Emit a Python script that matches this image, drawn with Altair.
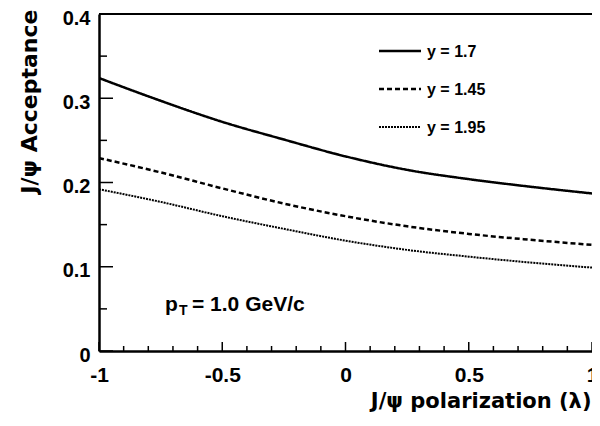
import altair as alt
import pandas as pd

# ---- data ----
lam = [-1.0, -0.75, -0.5, -0.25, 0.0, 0.25, 0.5, 0.75, 1.0]
acc_y17 = [0.324, 0.297, 0.272, 0.251, 0.231, 0.215, 0.204, 0.195, 0.187]
acc_y145 = [0.229, 0.212, 0.193, 0.175, 0.160, 0.148, 0.139, 0.132, 0.126]
acc_y195 = [0.192, 0.177, 0.160, 0.145, 0.131, 0.120, 0.112, 0.105, 0.099]

series_names = ["y = 1.7", "y = 1.45", "y = 1.95"]
series_values = [acc_y17, acc_y145, acc_y195]

x_major = [-1, -0.5, 0, 0.5, 1]
x_minor = [-0.9, -0.8, -0.7, -0.6, -0.4, -0.3, -0.2, -0.1,
           0.1, 0.2, 0.3, 0.4, 0.6, 0.7, 0.8, 0.9]
y_major = [0, 0.1, 0.2, 0.3, 0.4]
y_minor = [0.05, 0.15, 0.25, 0.35]

x_title = "J/ψ polarization (λ)"
y_title = "J/ψ Acceptance"

# ---- layout / style ----
W, H = 493, 337
TOP = 6
FONT = "Liberation Sans"
TFONT = "DejaVu Sans"
dashes = [[1, 0], [5, 3], [2, 1]]
widths = [2.5, 2.5, 2.0]

xs = alt.Scale(domain=[-1, 1], nice=False, zero=False)
ys = alt.Scale(domain=[0, 0.4], nice=False, zero=False)

x_axis = alt.Axis(
    values=x_major, labelExpr="'' + datum.value", ticks=False,
    grid=False, domainWidth=2.5, domainColor="black",
    labelFont=FONT, labelFontWeight="bold", labelFontSize=21,
    labelColor="black", labelPadding=13, labelFlush=False,
    title=x_title, titleFont=TFONT, titleFontWeight="bold",
    titleFontSize=21, titleColor="black", titleAnchor="end",
    titleAlign="right", titleX=W - 1, titleY=50, titleBaseline="middle")
y_axis = alt.Axis(
    values=y_major, labelExpr="'' + datum.value", ticks=False,
    grid=False, domainWidth=2.5, domainColor="black",
    labelFont=FONT, labelFontWeight="bold", labelFontSize=20,
    labelColor="black", labelPadding=9, labelFlush=False, labelOffset=4,
    title=y_title, titleFont=TFONT, titleFontWeight="bold",
    titleFontSize=22, titleColor="black", titleAngle=-90,
    titleAlign="right", titleBaseline="middle",
    titleX=-70, titleY=-5)

layers = []
for i, (name, vals) in enumerate(zip(series_names, series_values)):
    df = pd.DataFrame({"lam": lam, "acc": vals})
    if i == 0:
        xenc = alt.X("lam:Q", scale=xs, axis=x_axis)
        yenc = alt.Y("acc:Q", scale=ys, axis=y_axis)
    else:
        xenc = alt.X("lam:Q", scale=xs)
        yenc = alt.Y("acc:Q", scale=ys)
    layers.append(
        alt.Chart(df).mark_line(color="black", strokeWidth=widths[i],
                                strokeDash=dashes[i], interpolate="monotone",
                                clip=True)
        .encode(x=xenc, y=yenc)
    )

# inward ticks
def xticks(vals, length):
    return alt.Chart(pd.DataFrame({"lam": vals})).mark_rule(
        color="black", strokeWidth=1.5).encode(
        x=alt.X("lam:Q", scale=xs),
        y=alt.value(H), y2=alt.value(H - length))

def yticks(vals, length):
    return alt.Chart(pd.DataFrame({"acc": vals})).mark_rule(
        color="black", strokeWidth=1.5).encode(
        y=alt.Y("acc:Q", scale=ys),
        x=alt.value(0), x2=alt.value(length))

layers += [xticks(x_major, 9), xticks(x_minor, 5),
           yticks(y_major, 14), yticks(y_minor, 8)]

one = pd.DataFrame({"a": [0]})

# top frame line
layers.append(alt.Chart(one).mark_rule(color="black", strokeWidth=2).encode(
    x=alt.value(0), x2=alt.value(W), y=alt.value(0)))

# legend
leg_y = [37, 75, 113]
for i, name in enumerate(series_names):
    layers.append(alt.Chart(one).mark_rule(
        color="black", strokeWidth=widths[i], strokeDash=dashes[i]).encode(
        x=alt.value(280), x2=alt.value(322), y=alt.value(leg_y[i])))
    layers.append(alt.Chart(one).mark_text(
        align="left", baseline="middle", font=FONT, fontWeight="bold",
        fontSize=16, color="black").encode(
        x=alt.value(328), y=alt.value(leg_y[i] + 1), text=alt.value(name)))

# pT annotation
ann = [("p", 66, 297, 21), ("T", 80, 301, 14), ("= 1.0 GeV/c", 93, 297, 21)]
for txt, ax, ay, fs in ann:
    layers.append(alt.Chart(one).mark_text(
        align="left", baseline="alphabetic", font=FONT, fontWeight="bold",
        fontSize=fs, color="black").encode(
        x=alt.value(ax), y=alt.value(ay), text=alt.value(txt)))

chart = alt.layer(*layers).properties(
    width=W, height=H,
    autosize=alt.AutoSizeParams(type="none"),
    padding={"left": 91, "top": TOP, "right": 0, "bottom": 62},
    background="white",
).configure_view(stroke=None)

chart.save("out.html", embed_options={"renderer": "svg", "actions": False})
